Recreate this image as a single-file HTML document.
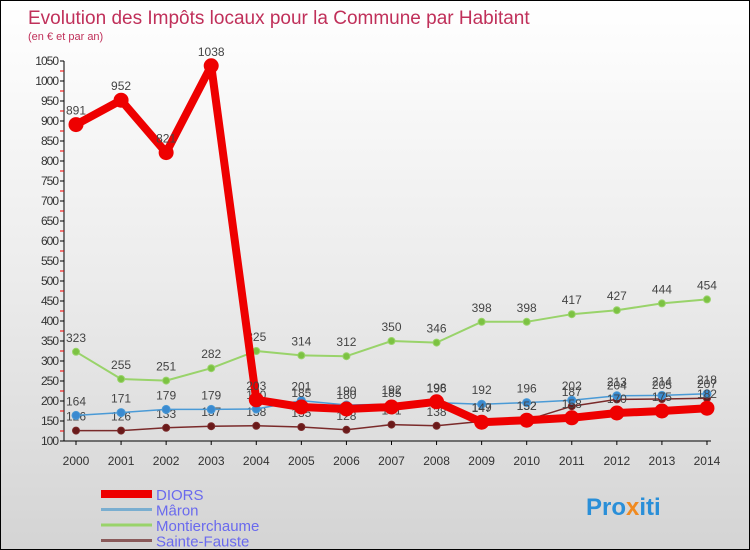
<!DOCTYPE html>
<html><head><meta charset="utf-8"><style>
body{margin:0}
#c{position:relative;width:748px;height:548px;border:1px solid #000;background:linear-gradient(#fff 0%,#ececec 50%,#d4d4d4 100%);font-family:"Liberation Sans",sans-serif;overflow:hidden}
svg{position:absolute;left:0;top:0}
</style></head><body>
<div id="c">
<svg id="s" width="748" height="548">
<text x="27" y="23" font-size="19" fill="#c0305a">Evolution des Impôts locaux pour la Commune par Habitant</text>
<text x="27" y="39" font-size="11" fill="#c0305a">(en € et par an)</text>
<text x="585" y="514" font-size="24" font-weight="bold" fill="#2a8fd8">Pro<tspan fill="#f08a20">x</tspan>iti</text>
</svg>
</div>
<script>
const years=[2000,2001,2002,2003,2004,2005,2006,2007,2008,2009,2010,2011,2012,2013,2014];
const yTicks=[100,150,200,250,300,350,400,450,500,550,600,650,700,750,800,850,900,950,1000,1050];
const diors=[891,952,821,1038,203,185,180,185,198,147,152,158,170,175,182];
const maron=[164,171,179,179,180,201,190,192,196,192,196,202,213,214,218];
const montier=[323,255,251,282,325,314,312,350,346,398,398,417,427,444,454];
const sainte=[126,126,133,137,138,135,128,141,138,149,152,187,204,205,207];
const NS="http://www.w3.org/2000/svg";
const s=document.getElementById('s');
const X=y=>75+(y-2000)*45.07;
const Y=v=>440-(v-100)*0.4;
function el(t,a,p){const e=document.createElementNS(NS,t);for(const k in a)e.setAttribute(k,a[k]);(p||s).appendChild(e);return e;}
// axes
const ax=el('line',{x1:63,y1:Y(100),x2:63,y2:Y(1050)+0,stroke:'#000'});


const xa=el('line',{x1:63,y1:Y(100),x2:710,y2:Y(100),stroke:'#000'});


yTicks.forEach((v,i)=>{
  el('line',{x1:59,y1:Y(v),x2:63,y2:Y(v),stroke:'#000'});
  if(i<yTicks.length-1)el('line',{x1:59,y1:Y(v+25),x2:63,y2:Y(v+25),stroke:'#e00'});
  const t=el('text',{x:57,y:Y(v)+4,'font-size':12,'text-anchor':'end',fill:'#333','letter-spacing':'-1'});
  t.textContent=v;
  
  
});
years.forEach(y=>{
  el('line',{x1:X(y),y1:Y(100),x2:X(y),y2:Y(100)+4,stroke:'#000'});
  const t=el('text',{x:X(y),y:464,'font-size':12,'text-anchor':'middle',fill:'#333'});
  t.textContent=y;
  
  
});
function series(d,col,w,r,name,dot){
  const g=el('g',{});
  
  
  el('polyline',{points:d.map((v,i)=>X(years[i])+','+Y(v)).join(' '),fill:'none',stroke:col,'stroke-width':w,'stroke-linejoin':'round'},g);
  d.forEach((v,i)=>{
    const c=el('circle',{cx:X(years[i]),cy:Y(v),r:r,fill:dot,stroke:col,'stroke-width':1},g);
    
    
    const t=el('text',{x:X(years[i]),y:Y(v)-10,'font-size':12,'text-anchor':'middle',fill:'#444'},g);
    t.textContent=v;
  });
}
series(montier,'#99d36a',2,3.5,'montierchaume','#7cc242');
series(sainte,'#7a2a2a',1.5,3.5,'sainte-fauste','#6a1a1a');
series(maron,'#4a9ad6',1.5,4,'maron','#3a8ad0');
series(diors,'#ee0000',8,7,'diors','#ee0000');
const leg=[['DIORS','#ee0000',8],['Mâron','#7aaed0',3],['Montierchaume','#99d36a',3],['Sainte-Fauste','#8a5a5a',3]];
leg.forEach((l,i)=>{
  const y=493+i*15.5;
  const ln=el('line',{x1:100,y1:y,x2:151,y2:y,stroke:l[1],'stroke-width':l[2]});
  
  
  const t=el('text',{x:155,y:y+6,'font-size':15,fill:'#6a6aee'});
  t.textContent=l[0];
  
  
});
</script>
</body></html>
